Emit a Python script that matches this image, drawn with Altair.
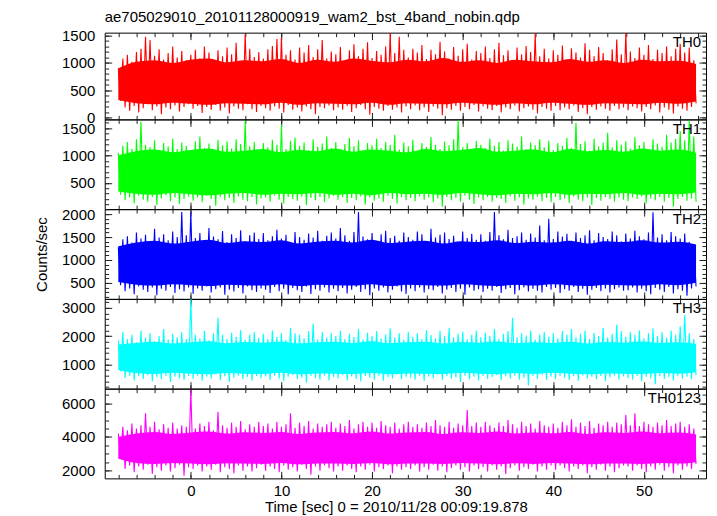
import altair as alt
import pandas as pd

FONT = "Liberation Sans"
T_START = -8.0
T_STEP = 0.5
T_END = 55.75

TITLE = "ae705029010_20101128000919_wam2_bst_4band_nobin.qdp"
X_TITLE = "Time [sec] 0 = 2010/11/28 00:09:19.878"
Y_TITLE = "Counts/sec"

X_MAJOR = [0, 10, 20, 30, 40, 50]
X_MINOR = list(range(-8, 57, 2))

# peak (hi) and trough (lo) of the light curve in each 0.5 s step
th0_hi = [900, 1080, 1150, 1020, 1200, 1260, 1480, 1420, 1130, 1250, 1060, 1180, 1300, 1100, 1220, 1050,
          1150, 1240, 1080, 1300, 1190, 1050, 1230, 1120, 1280, 1160, 1370, 1020, 1530, 1260, 1110, 1200,
          1080, 1250, 1310, 1440, 1470, 1150, 1230, 1060, 1280, 1190, 1330, 1110, 1250, 1420, 1080, 1210,
          1160, 1290, 1050, 1230, 1340, 1120, 1260, 1380, 1090, 1220, 1150, 1300, 1550, 1180, 1480, 1240,
          1100, 1260, 1190, 1330, 1070, 1240, 1160, 1390, 1210, 1080, 1290, 1130, 1250, 1350, 1060, 1220,
          1180, 1300, 1090, 1250, 1370, 1140, 1230, 1050, 1280, 1160, 1310, 1200, 1540, 1120, 1260, 1080,
          1230, 1150, 1320, 1060, 1270, 1190, 1100, 1360, 1240, 1120, 1290, 1180, 1050, 1250, 1430, 1160,
          1550, 1210, 1090, 1280, 1150, 1330, 1070, 1240, 1180, 1300, 1120, 1260, 1350, 1190, 1280, 1050]
th0_lo = [300, 180, 120, 210, 90, 170, 240, 130, 200, 60, 180, 150, 220, 110, 190, 240,
          160, 210, 80, 190, 140, 230, 120, 180, 70, 200, 160, 130, 240, 150, 100, 210,
          170, 120, 200, 160, 90, 230, 140, 180, 110, 200, 150, 60, 190, 170, 220, 130,
          180, 140, 210, 100, 170, 230, 150, 50, 190, 160, 120, 210, 140, 180, 90, 200,
          150, 220, 130, 180, 100, 200, 160, 40, 170, 140, 210, 120, 190, 150, 230, 110,
          200, 160, 130, 210, 90, 180, 150, 220, 110, 170, 200, 140, 70, 190, 160, 120,
          210, 130, 180, 150, 220, 100, 170, 60, 190, 140, 200, 160, 120, 210, 150, 180,
          130, 200, 170, 110, 190, 150, 220, 90, 180, 140, 70, 200, 160, 120, 190, 260]

th1_hi = [1050, 1180, 1250, 1120, 1300, 1620, 1200, 1150, 1280, 1090, 1230, 1170, 1310, 1120, 1240, 1180,
          1100, 1260, 1350, 1140, 1220, 1080, 1290, 1190, 1260, 1130, 1300, 1210, 1640, 1170, 1250, 1090,
          1230, 1150, 1290, 1200, 1560, 1120, 1270, 1330, 1180, 1240, 1090, 1300, 1160, 1220, 1350, 1140,
          1250, 1100, 1210, 1320, 1170, 1280, 1060, 1230, 1190, 1310, 1140, 1250, 1200, 1380, 1110, 1240,
          1170, 1290, 1080, 1230, 1160, 1340, 1200, 1120, 1260, 1190, 1300, 1650, 1150, 1230, 1080, 1270,
          1200, 1140, 1310, 1180, 1250, 1090, 1280, 1220, 1160, 1350, 1120, 1240, 1190, 1300, 1150, 1270,
          1100, 1230, 1180, 1320, 1140, 1600, 1210, 1260, 1090, 1310, 1170, 1240, 1420, 1150, 1280, 1200,
          1260, 1130, 1340, 1190, 1250, 1100, 1300, 1220, 1160, 1380, 1240, 1310, 1450, 1280, 1640, 1350]
th1_lo = [280, 180, 230, 120, 260, 190, 150, 240, 90, 210, 270, 160, 230, 110, 200, 250,
          170, 230, 140, 260, 200, 80, 240, 180, 220, 130, 250, 190, 160, 240, 100, 210,
          230, 150, 260, 190, 120, 240, 200, 170, 250, 90, 220, 180, 240, 140, 210, 260,
          190, 240, 130, 220, 180, 250, 100, 230, 170, 210, 150, 260, 200, 120, 240, 180,
          220, 160, 250, 190, 230, 140, 210, 60, 240, 180, 220, 150, 260, 190, 110, 230,
          180, 240, 150, 220, 200, 130, 250, 170, 230, 100, 210, 190, 250, 160, 220, 140,
          240, 180, 210, 130, 250, 190, 160, 230, 90, 220, 170, 240, 200, 150, 230, 190,
          160, 230, 200, 250, 120, 210, 180, 240, 150, 220, 60, 200, 240, 170, 210, 150]

th2_hi = [1280, 1450, 1520, 1380, 1600, 1470, 1550, 1400, 1680, 1490, 1560, 1430, 1620, 1500, 2050, 1540,
          2040, 1480, 1590, 1420, 1700, 1510, 1450, 1630, 1390, 1560, 1480, 1650, 1410, 1540, 1600, 1460,
          1590, 1430, 1520, 1660, 1470, 1550, 1380, 1610, 1500, 1440, 1580, 1490, 1640, 1420, 1530, 1600,
          1470, 1700, 1540, 1420, 1610, 2050, 1510, 1450, 1590, 1380, 1560, 1640, 1480, 1530, 1420, 1600,
          1500, 1440, 1620, 1560, 1410, 1680, 1490, 1550, 1600, 1460, 1530, 1380, 1620, 1480, 1570, 1440,
          1560, 1420, 1610, 2050, 1540, 1450, 1660, 1480, 1520, 1600, 1440, 1580, 1490, 1750, 1430, 1900,
          1460, 1620, 1510, 1570, 1420, 1600, 1480, 1540, 1650, 1430, 1590, 1500, 1460, 1620, 1540, 1410,
          1580, 1470, 1640, 1520, 1450, 1600, 2040, 1490, 1560, 1430, 1610, 1520, 1470, 1580, 1400, 1350]
th2_lo = [450, 320, 380, 250, 420, 350, 300, 400, 230, 370, 330, 410, 280, 360, 310, 400,
          260, 380, 330, 420, 290, 360, 400, 240, 350, 310, 390, 270, 420, 340, 300, 380,
          350, 280, 410, 320, 370, 250, 390, 340, 300, 420, 260, 360, 330, 400, 290, 370,
          320, 390, 270, 350, 410, 300, 360, 230, 380, 330, 400, 290, 350, 420, 310, 260,
          380, 320, 400, 290, 360, 340, 410, 270, 350, 390, 300, 370, 240, 400, 330, 360,
          300, 370, 330, 410, 280, 360, 390, 250, 340, 400, 310, 370, 330, 290, 410, 350,
          390, 280, 360, 330, 410, 300, 370, 240, 350, 390, 320, 380, 290, 360, 400, 330,
          340, 400, 290, 370, 320, 250, 390, 350, 300, 410, 270, 360, 330, 220, 380, 420]

th3_hi = [1850, 2150, 1900, 2050, 1780, 2200, 1950, 2100, 1820, 2000, 2250, 1880, 2080, 1960, 2150, 1900,
          3320, 2050, 1920, 2180, 1850, 2100, 2650, 2050, 1900, 2120, 1980, 2220, 1870, 2060, 2150, 1940,
          2080, 1900, 2200, 1980, 2100, 1860, 2300, 2100, 2050, 1920, 2180, 2450, 1880, 2150, 1950, 2100,
          2000, 2200, 1900, 2080, 1970, 2250, 1880, 2120, 2000, 2180, 1920, 2060, 2280, 1950, 2100, 1870,
          2150, 1980, 2100, 1900, 2220, 2040, 1920, 2180, 2000, 2300, 1950, 2080, 2160, 1890, 2050, 2200,
          1960, 2120, 2000, 2250, 1900, 2080, 2180, 2650, 1950, 2100, 2020, 2200, 1880, 2060, 2150, 1990,
          2100, 1920, 2180, 2050, 2250, 1960, 2080, 2200, 1900, 2120, 2000, 2300, 1950, 2080, 2400, 2180,
          1980, 2150, 2050, 2200, 1920, 2100, 2280, 2000, 2150, 1950, 2200, 2050, 2350, 2750, 2100, 1900]
th3_lo = [750, 520, 600, 430, 580, 480, 620, 400, 550, 470, 600, 380, 560, 500, 450, 590,
          480, 610, 420, 560, 500, 640, 450, 580, 380, 530, 600, 470, 550, 420, 590, 510,
          570, 450, 600, 500, 400, 560, 620, 480, 530, 350, 590, 510, 460, 610, 430, 550,
          500, 620, 440, 570, 480, 390, 590, 530, 460, 600, 420, 550, 500, 640, 470, 560,
          530, 460, 600, 410, 570, 510, 630, 450, 580, 490, 540, 380, 600, 470, 560, 430,
          590, 480, 550, 620, 440, 570, 500, 600, 460, 530, 250, 580, 490, 620, 450, 560,
          480, 600, 530, 450, 580, 420, 610, 500, 560, 470, 590, 400, 540, 610, 460, 570,
          520, 460, 590, 400, 560, 510, 300, 580, 480, 550, 430, 600, 500, 560, 470, 620]

th0123_hi = [4200, 4600, 4400, 4800, 4500, 4700, 5400, 4600, 4900, 4450, 4750, 4550, 4850, 4500, 4700, 4600,
             6800, 4500, 4800, 4650, 4900, 4400, 5500, 4700, 4550, 4850, 4600, 4950, 4450, 4750, 4600, 4900,
             4650, 4800, 4500, 4900, 4600, 4750, 5400, 4550, 4850, 4650, 4950, 4500, 4800, 4600, 4750, 4900,
             4550, 4800, 4650, 5000, 4500, 4750, 4900, 4600, 4850, 4550, 4950, 4700, 4600, 4850, 4500, 4750,
             4900, 4600, 4750, 4550, 4850, 4650, 5000, 4700, 4600, 4900, 4550, 4800, 4700, 5600, 4650, 4850,
             4600, 4900, 4700, 4550, 4850, 4650, 5000, 4750, 4550, 4900, 4650, 4800, 4500, 4950, 4700, 4600,
             4800, 4550, 4900, 4700, 5050, 4600, 4850, 4650, 4950, 4550, 4800, 4700, 4900, 4600, 4850, 4750,
             5300, 4700, 5400, 4650, 4900, 4750, 4600, 4850, 4700, 5000, 4650, 4800, 4900, 4600, 4750, 4500]
th0123_lo = [2800, 2100, 2300, 1900, 2250, 2050, 2350, 1800, 2200, 2000, 2300, 1950, 2150, 2350, 1700, 2200,
             2100, 2300, 1950, 2250, 2050, 2350, 1900, 2200, 2100, 1850, 2300, 2000, 2250, 1950, 2150, 2350,
             2000, 2250, 2100, 1900, 2300, 2050, 2200, 1950, 2350, 2100, 1750, 2250, 2000, 2300, 2150, 1950,
             2250, 2000, 2300, 2100, 1900, 2250, 2050, 2350, 1950, 2200, 2100, 2300, 1850, 2250, 2050, 2200,
             2100, 2300, 1950, 2200, 2050, 2350, 2000, 2250, 1900, 2150, 2300, 2050, 2200, 1950, 2300, 2100,
             2200, 1950, 2300, 2050, 2250, 1800, 2150, 2300, 2000, 2200, 2100, 2350, 1950, 2250, 2050, 2300,
             2050, 2300, 2150, 1950, 2250, 2100, 2300, 1850, 2200, 2050, 2350, 2000, 2250, 1900, 2150, 2300,
             2250, 2000, 2300, 2100, 1900, 2250, 2050, 2350, 2000, 2200, 1850, 2300, 2050, 2250, 2100, 2400]

# edges of the dense (saturated) core of each band, 33 points across the run
th0_core_hi = [900, 1020, 1050, 1000, 1060, 1080, 1010, 1050, 1030, 1070, 1000, 1060, 1020, 1080, 1040, 1010, 1060,
               1030, 1090, 1020, 1050, 1000, 1060, 1030, 1010, 1070, 1020, 1050, 1000, 1060, 1030, 1040, 980]
th0_core_lo = [320, 260, 240, 270, 250, 230, 260, 250, 240, 270, 230, 260, 250, 240, 270, 230, 260,
               250, 240, 270, 250, 230, 260, 240, 270, 250, 230, 260, 250, 240, 270, 250, 290]
th1_core_hi = [1000, 1080, 1110, 1060, 1100, 1130, 1070, 1090, 1120, 1060, 1100, 1080, 1130, 1070, 1110, 1090, 1060,
               1120, 1080, 1100, 1140, 1070, 1090, 1110, 1060, 1120, 1080, 1100, 1070, 1130, 1090, 1110, 1050]
th1_core_lo = [340, 300, 280, 310, 290, 270, 300, 310, 280, 300, 290, 310, 280, 300, 270, 310, 290,
               300, 280, 310, 290, 270, 300, 290, 310, 280, 300, 290, 310, 280, 300, 290, 320]
th2_core_hi = [1300, 1380, 1420, 1360, 1400, 1440, 1370, 1410, 1390, 1430, 1360, 1400, 1420, 1380, 1440, 1370, 1400,
               1420, 1360, 1410, 1390, 1430, 1370, 1400, 1380, 1420, 1360, 1410, 1390, 1430, 1380, 1400, 1340]
th2_core_lo = [520, 460, 440, 470, 450, 430, 460, 450, 440, 470, 430, 460, 450, 440, 470, 430, 460,
               450, 440, 470, 450, 430, 460, 440, 470, 450, 430, 460, 450, 440, 470, 450, 500]
th3_core_hi = [1700, 1760, 1800, 1740, 1780, 1820, 1750, 1790, 1770, 1810, 1740, 1780, 1800, 1760, 1820, 1750, 1780,
               1800, 1740, 1790, 1770, 1810, 1750, 1780, 1760, 1800, 1740, 1790, 1770, 1810, 1760, 1780, 1720]
th3_core_lo = [800, 690, 660, 700, 670, 650, 690, 670, 660, 700, 650, 680, 670, 660, 690, 650, 680,
               670, 660, 700, 670, 650, 690, 660, 700, 670, 650, 680, 670, 660, 690, 670, 720]
th0123_core_hi = [4000, 4200, 4300, 4180, 4260, 4320, 4200, 4280, 4240, 4300, 4180, 4260, 4300, 4220, 4320, 4200, 4260,
                  4300, 4180, 4280, 4240, 4320, 4200, 4260, 4220, 4300, 4180, 4280, 4240, 4320, 4220, 4260, 4150]
th0123_core_lo = [2700, 2450, 2400, 2460, 2420, 2380, 2440, 2420, 2400, 2460, 2380, 2430, 2420, 2400, 2450, 2380, 2430,
                  2420, 2400, 2460, 2420, 2380, 2440, 2400, 2460, 2420, 2380, 2430, 2420, 2400, 2450, 2420, 2500]

PANELS = [
    dict(name="TH0", lo=th0_lo, hi=th0_hi, clo=th0_core_lo, chi=th0_core_hi, color="#ff0000",
         domain=[-37, 1555], major=[0, 500, 1000, 1500], minor=list(range(0, 1600, 100)), height=87),
    dict(name="TH1", lo=th1_lo, hi=th1_hi, clo=th1_core_lo, chi=th1_core_hi, color="#00ff00",
         domain=[15, 1664], major=[500, 1000, 1500], minor=list(range(100, 1700, 100)), height=90),
    dict(name="TH2", lo=th2_lo, hi=th2_hi, clo=th2_core_lo, chi=th2_core_hi, color="#0000ff",
         domain=[150, 2110], major=[500, 1000, 1500, 2000], minor=list(range(200, 2200, 100)), height=90),
    dict(name="TH3", lo=th3_lo, hi=th3_hi, clo=th3_core_lo, chi=th3_core_hi, color="#00ffff",
         domain=[140, 3320], major=[1000, 2000, 3000], minor=list(range(200, 3400, 200)), height=90),
    dict(name="TH0123", lo=th0123_lo, hi=th0123_hi, clo=th0123_core_lo, chi=th0123_core_hi, color="#ff00ff",
         domain=[1540, 6870], major=[2000, 4000, 6000], minor=list(range(2000, 6900, 500)), height=90),
]

W = 603
X_DOMAIN = [-9.5, 56.85]
MAJ, MIN = 7, 4


def ax(orient, values, size, labels=False, **kw):
    return alt.Axis(orient=orient, values=values, tickSize=size, offset=-size,
                    labels=labels, domain=False, grid=False, tickColor="#222",
                    tickWidth=1, labelFont=FONT, labelFontSize=15, labelColor="#000",
                    labelFlush=False, labelOverlap=False, format="d",
                    titleFont=FONT, titleFontSize=15, titleFontWeight="normal",
                    titleColor="#000", **kw)


def make_panel(p, idx):
    is_bottom = idx == len(PANELS) - 1
    n = len(p["hi"])
    # light curve: alternate the peak and trough of each 0.5 s step
    ts, vs = [], []
    for i in range(n):
        ts += [T_START + T_STEP * i, T_START + T_STEP * i + T_STEP / 2]
        vs += [p["hi"][i], p["lo"][i]]
    curve = pd.DataFrame({"t": ts, "v": vs})
    nc = len(p["chi"])
    core_df = pd.DataFrame({"t": [T_START + (T_END - T_START) * k / (nc - 1) for k in range(nc)],
                            "lo": p["clo"], "hi": p["chi"]})

    xs = alt.Scale(domain=X_DOMAIN, nice=False, zero=False)
    ys = alt.Scale(domain=p["domain"], nice=False, zero=False)

    xkw = dict(title=X_TITLE, titlePadding=1, titleX=292, labelPadding=5) if is_bottom else dict(title=None)
    ykw = dict(title=Y_TITLE, titlePadding=12) if p["name"] == "TH2" else dict(title=None)

    core = alt.Chart(core_df).mark_area(color=p["color"], interpolate="monotone").encode(
        x=alt.X("t:Q", scale=xs, axis=ax("bottom", X_MAJOR, MAJ, labels=is_bottom, **xkw)),
        y=alt.Y("lo:Q", scale=ys, axis=ax("left", p["major"], MAJ, labels=True, labelPadding=10, **ykw)),
        y2="hi:Q",
    )
    line = alt.Chart(curve).mark_line(color=p["color"], strokeWidth=1.1).encode(
        x=alt.X("t:Q", scale=xs, axis=None),
        y=alt.Y("v:Q", scale=ys, axis=None),
    )
    base = alt.Chart(core_df)
    minor = base.mark_point(opacity=0).encode(
        x=alt.X("t:Q", scale=xs, axis=ax("bottom", X_MINOR, MIN, title=None)),
        y=alt.Y("lo:Q", scale=ys, axis=ax("left", p["minor"], MIN, title=None)),
    )
    top_major = base.mark_point(opacity=0).encode(
        x=alt.X("t:Q", scale=xs, axis=ax("top", X_MAJOR, MAJ, title=None)),
        y=alt.Y("lo:Q", scale=ys, axis=ax("right", p["major"], MAJ, title=None)),
    )
    top_minor = base.mark_point(opacity=0).encode(
        x=alt.X("t:Q", scale=xs, axis=ax("top", X_MINOR, MIN, title=None)),
        y=alt.Y("lo:Q", scale=ys, axis=ax("right", p["minor"], MIN, title=None)),
    )
    label = alt.Chart(pd.DataFrame({"label": [p["name"]]})).mark_text(
        align="right", baseline="alphabetic", font=FONT, fontSize=15, color="#000"
    ).encode(text="label:N", x=alt.value(W - 5), y=alt.value(14.5))

    layer = alt.layer(minor, top_major, top_minor, core, line, label).resolve_axis(
        x="independent", y="independent"
    ).properties(width=W, height=p["height"])
    if idx == 0:
        layer = layer.properties(title=alt.TitleParams(
            TITLE, anchor="start", frame="group", font=FONT, fontSize=15,
            fontWeight="normal", color="#000", offset=4))
    return layer


chart = alt.vconcat(*[make_panel(p, i) for i, p in enumerate(PANELS)],
                    spacing=0, bounds="flush").configure_view(
    stroke="#000", strokeWidth=1
).properties(padding={"left": 26, "top": 0, "right": 2, "bottom": 0})

chart.save("out.html", embed_options={"renderer": "svg", "actions": False})
